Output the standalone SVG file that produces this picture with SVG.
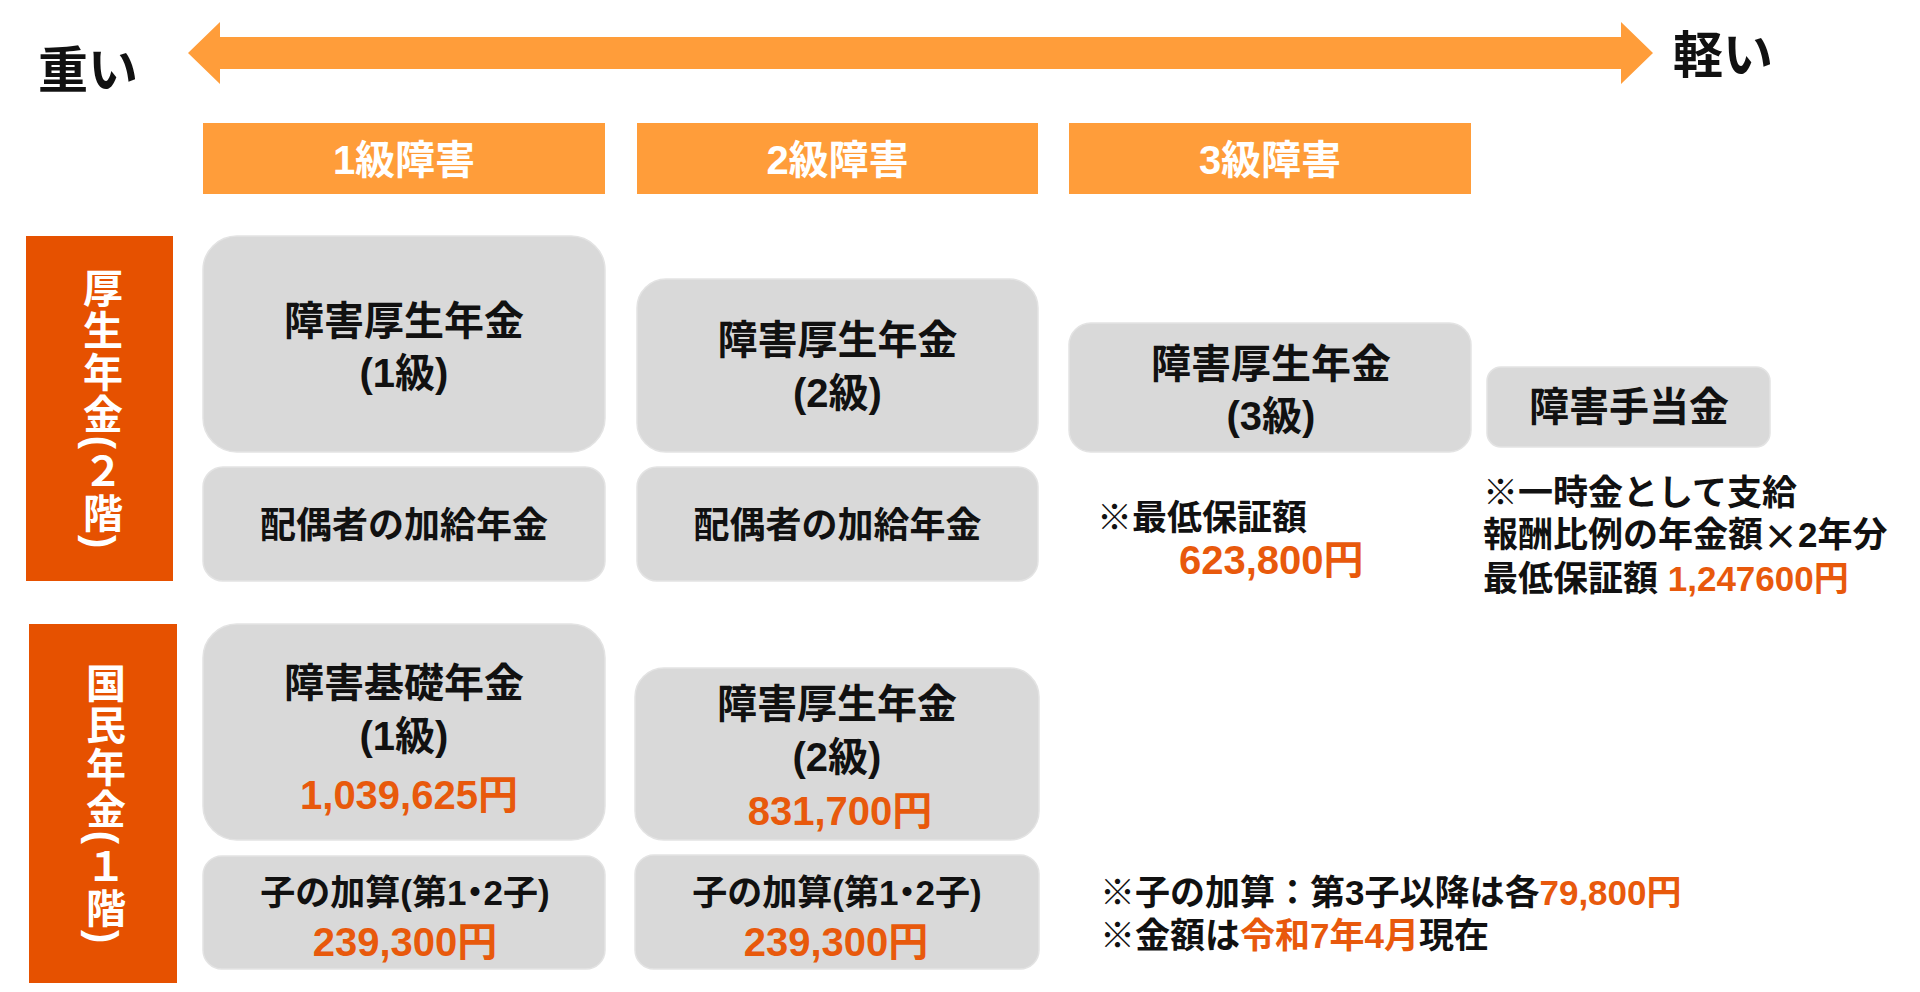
<svg xmlns="http://www.w3.org/2000/svg" width="1920" height="992" viewBox="0 0 1920 992">
<style>
text{font-family:"Liberation Sans","Noto Sans CJK JP",sans-serif;font-weight:700;dominant-baseline:central}
.k{fill:#111111}
.w{fill:#ffffff}
.o{fill:#E8590C}
.c{text-anchor:middle}
.cjk{font-family:"Noto Sans CJK JP",sans-serif}
.hdr{fill:#FF9D3A}
.lbl{fill:#E65100}
.box{fill:#D9D9D9;stroke:#E3E3E3;stroke-width:1.5}
.f50{font-size:50px}
.f40{font-size:40px}
.f36{font-size:36px}
.f35{font-size:35px}
.vt{writing-mode:vertical-rl;font-size:40px;letter-spacing:2px}
</style>
<rect width="1920" height="992" fill="#ffffff"/>

<g id="connectors">
<polygon class="hdr" points="188,53 220,22 220,37 1621,37 1621,22 1653,53 1621,84 1621,69 220,69 220,84"/>
</g>

<g id="scale-heavy"><text class="k f50" x="38" y="71">重い</text></g>
<g id="scale-light"><text class="k f50" x="1673" y="56">軽い</text></g>

<g id="hdr-1"><rect class="hdr" x="203" y="123" width="402" height="71"/><text class="w c f40" x="404" y="160">1級障害</text></g>
<g id="hdr-2"><rect class="hdr" x="637" y="123" width="401" height="71"/><text class="w c f40" x="837.5" y="160">2級障害</text></g>
<g id="hdr-3"><rect class="hdr" x="1069" y="123" width="402" height="71"/><text class="w c f40" x="1270" y="160">3級障害</text></g>

<g id="lbl-kosei"><rect class="lbl" x="26" y="236" width="147" height="345"/><text class="w c vt" x="100" y="409">厚生年金(２階)</text></g>
<g id="lbl-kokumin"><rect class="lbl" x="29" y="624" width="148" height="359"/><text class="w c vt" x="103" y="804">国民年金(１階)</text></g>

<g id="kosei-1"><rect class="box" x="203" y="236" width="402" height="216" rx="34"/><text class="k c f40"><tspan x="404" y="321">障害厚生年金</tspan><tspan x="404" y="373">(1級)</tspan></text></g>
<g id="haigu-1"><rect class="box" x="203" y="467" width="402" height="114" rx="20"/><text class="k c f36" x="404" y="525">配偶者の加給年金</text></g>

<g id="kosei-2"><rect class="box" x="637" y="279" width="401" height="173" rx="29"/><text class="k c f40"><tspan x="837.5" y="340">障害厚生年金</tspan><tspan x="837.5" y="393">(2級)</tspan></text></g>
<g id="haigu-2"><rect class="box" x="637" y="467" width="401" height="114" rx="20"/><text class="k c f36" x="837.5" y="525">配偶者の加給年金</text></g>

<g id="kosei-3"><rect class="box" x="1069" y="323" width="402" height="129" rx="22"/><text class="k c f40"><tspan x="1271" y="364">障害厚生年金</tspan><tspan x="1271" y="416">(3級)</tspan></text></g>
<g id="min-3"><text class="k f35"><tspan x="1097" y="517">※最低保証額</tspan><tspan class="o f40" x="1179" y="560">623,800円</tspan></text></g>

<g id="teate"><rect class="box" x="1487" y="367" width="283" height="80" rx="14"/><text class="k c f40" x="1629" y="407">障害手当金</text></g>
<g id="teate-note">
<text class="k f35"><tspan x="1483" y="492">※一時金として支給</tspan><tspan x="1483" y="534">報酬比例の年金額<tspan class="cjk">×</tspan>2年分</tspan><tspan x="1483" y="578">最低保証額 </tspan><tspan class="o">1,247600円</tspan></text>
</g>

<g id="kiso-1"><rect class="box" x="203" y="624" width="402" height="216" rx="34"/><text class="k c f40"><tspan x="404" y="683">障害基礎年金</tspan><tspan x="404" y="736">(1級)</tspan><tspan class="o" x="409" y="795">1,039,625円</tspan></text></g>
<g id="ko-1"><rect class="box" x="203" y="856" width="402" height="113" rx="19"/><text class="k c f35"><tspan x="405" y="892">子の加算(第1<tspan dx="-9">・</tspan><tspan dx="-9">2子)</tspan></tspan><tspan class="o f40" x="405" y="942">239,300円</tspan></text></g>

<g id="kiso-2"><rect class="box" x="635" y="668" width="404" height="172" rx="29"/><text class="k c f40"><tspan x="837" y="704">障害厚生年金</tspan><tspan x="837" y="757">(2級)</tspan><tspan class="o" x="840" y="811">831,700円</tspan></text></g>
<g id="ko-2"><rect class="box" x="635" y="855" width="404" height="114" rx="19"/><text class="k c f35"><tspan x="837" y="892">子の加算(第1<tspan dx="-9">・</tspan><tspan dx="-9">2子)</tspan></tspan><tspan class="o f40" x="836" y="942">239,300円</tspan></text></g>

<g id="notes">
<text class="k f35"><tspan x="1100" y="892">※子の加算：第3子以降は各<tspan class="o">79,800円</tspan></tspan><tspan x="1100" y="935">※金額は<tspan class="o">令和7年4月</tspan>現在</tspan></text>
</g>
</svg>
